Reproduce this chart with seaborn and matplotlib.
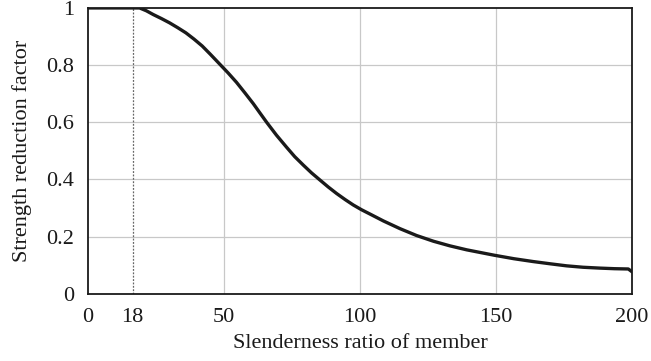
import seaborn as sns
import pandas as pd
import matplotlib.pyplot as plt

sns.set_theme(style="whitegrid")
plt.rcParams['font.family'] = ['Liberation Serif', 'DejaVu Serif']

# values
slenderness = [0, 10, 19, 21.5, 24, 27, 30, 33, 36, 39, 42, 45, 48.5, 51.5, 54.6,
               57.7, 60.8, 63.2, 65.7, 69.3, 73, 76, 79.2, 82.2, 85.3, 88.3,
               91.4, 94.5, 97.5, 100.6, 103.7, 108.6, 114.7, 120.8, 127, 133,
               139.2, 149.4, 156.5, 163.6, 170, 175.9, 182, 188.2, 193.5, 198.6, 200]
reduction = [1, 1, 1, 0.99, 0.977, 0.963, 0.948, 0.931, 0.913, 0.891, 0.867,
             0.838, 0.803, 0.773, 0.74, 0.703, 0.665, 0.633, 0.60, 0.555, 0.513,
             0.48, 0.45, 0.423, 0.398, 0.374, 0.351, 0.33, 0.311, 0.294, 0.279,
             0.255, 0.228, 0.204, 0.184, 0.168, 0.154, 0.135, 0.123, 0.113, 0.105,
             0.098, 0.093, 0.090, 0.088, 0.087, 0.077]

limit_x = 16.4
x_ticks = [0, limit_x, 50, 100, 150, 200]
x_labels = ["0", "18", "50", "100", "150", "200"]
y_ticks = [0, 0.2, 0.4, 0.6, 0.8, 1]
y_labels = ["0", "0.2", "0.4", "0.6", "0.8", "1"]

df = pd.DataFrame({"x": slenderness, "y": reduction})

fig = plt.figure(figsize=(6.51, 3.61), dpi=100)
ax = fig.add_axes([0.135, 0.186, 0.836, 0.792])

# grid only at round values
for gx in [50, 100, 150]:
    ax.axvline(gx, color="#c8c8c8", lw=0.9, zorder=0)
for gy in [0.2, 0.4, 0.6, 0.8]:
    ax.axhline(gy, color="#c8c8c8", lw=0.9, zorder=0)
ax.grid(False)

ax.plot([limit_x, limit_x], [0, 1], color="#666666", lw=0.9, ls=(0, (1.5, 1.2)), zorder=1)

sns.lineplot(data=df, x="x", y="y", ax=ax, color="#1a1a1a", lw=2.4, zorder=3)

ax.set_xlim(0, 200)
ax.set_ylim(0, 1)
ax.set_xticks(x_ticks)
ax.set_xticklabels(x_labels)
ax.set_yticks(y_ticks)
ax.set_yticklabels(y_labels)
ax.tick_params(axis="x", labelsize=16, length=0, colors="#1a1a1a", pad=10)
ax.tick_params(axis="y", labelsize=16, length=0, colors="#1a1a1a", pad=10)
ax.set_xlabel("Slenderness ratio of member", fontsize=16, color="#1a1a1a", labelpad=5)
ax.set_ylabel("Strength reduction factor", fontsize=16, color="#1a1a1a", labelpad=10)

for s in ax.spines.values():
    s.set_visible(True)
    s.set_color("#1a1a1a")
    s.set_linewidth(1.3)

fig.patch.set_facecolor("white")
ax.set_facecolor("white")
fig.savefig("out.png", dpi=100)
